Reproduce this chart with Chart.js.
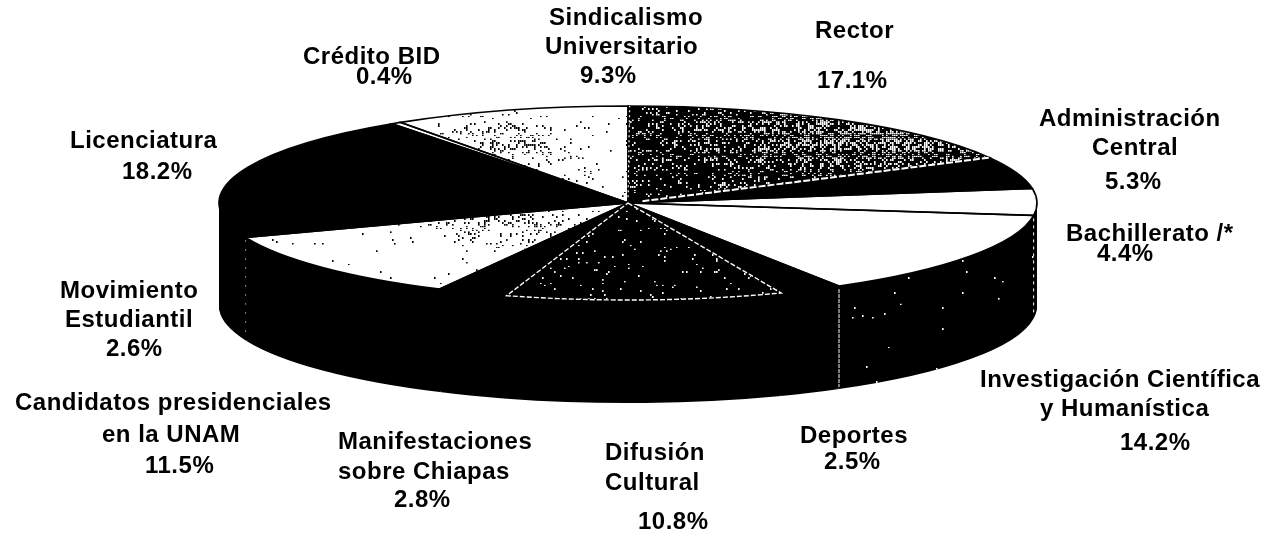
<!DOCTYPE html>
<html>
<head>
<meta charset="utf-8">
<title>Pie</title>
<script src="https://cdn.jsdelivr.net/npm/chart.js@4"></script>
<style>
  html, body { margin: 0; padding: 0; background: #fff; }
  canvas { display: block; }
</style>
</head>
<body>
<canvas id="pie" width="1270" height="535"></canvas>
<script>
const categories = [
  ['Rector'],
  ['Administración', 'Central'],
  ['Bachillerato /*'],
  ['Investigación Científica', 'y Humanística'],
  ['Deportes'],
  ['Difusión', 'Cultural'],
  ['Manifestaciones', 'sobre Chiapas'],
  ['Candidatos presidenciales', 'en la UNAM'],
  ['Movimiento', 'Estudiantil'],
  ['Licenciatura'],
  ['Crédito BID'],
  ['Sindicalismo', 'Universitario']
];
const values = [17.1, 5.3, 4.4, 14.2, 2.5, 10.8, 2.8, 11.5, 2.6, 18.2, 0.4, 9.3];

// left edge and middle height of every text line, last one is the percentage
const labelSpots = [
  [[815, 31], [817, 81]],
  [[1039, 119], [1092, 148], [1105, 182]],
  [[1066, 234], [1097, 254]],
  [[980, 380], [1040, 409], [1120, 443]],
  [[800, 436], [824, 462]],
  [[605, 453], [605, 483], [638, 522]],
  [[338, 442], [338, 472], [394, 500]],
  [[15, 403], [102, 435], [145, 466]],
  [[60, 291], [65, 320], [106, 349]],
  [[70, 141], [122, 172]],
  [[303, 57], [356, 77]],
  [[549, 18], [545, 47], [580, 76]]
];

const rx = 409, ry = 97, depth = 103;
const cx = 628, cy = 203;
const squash = ry / rx;

// slice textures, drawn in the unsquashed space of the pie
function speckle(base, dot, density) {
  const tile = document.createElement('canvas');
  tile.width = 1270;
  tile.height = 816;
  const t = tile.getContext('2d');
  t.fillStyle = base;
  t.fillRect(0, 0, 1270, 816);
  t.fillStyle = dot;
  for (let y = cy - 408; y < cy + 408; y += 8) {
    for (let x = 200; x < 1050; x += 2) {
      const h = Math.abs(Math.sin(x * 12.9898 + y * 78.233) * 43758.5453) % 1;
      if (h < density(x, cy + (y - cy) * squash)) {
        t.fillRect(x, ((y % 816) + 816) % 816, 1.6, 7);
      }
    }
  }
  return t.createPattern(tile, 'repeat');
}
const blob = (x, y, mx, my, sx, sy, a) =>
  a * Math.exp(-((x - mx) ** 2) / (2 * sx * sx) - ((y - my) ** 2) / (2 * sy * sy));

const rectorFill = speckle('#000', '#fff', (x, y) => 0.1 + blob(x, y, 880, 135, 130, 24, 0.42));
const difusionFill = speckle('#000', '#fff', () => 0.03);
const sindicalFill = speckle('#fff', '#000', (x, y) =>
  0.01 + blob(x, y, 510, 140, 40, 13, 0.26) + blob(x, y, 590, 165, 16, 8, 0.08));
const candidatosFill = speckle('#fff', '#000', (x, y) =>
  0.006 + blob(x, y, 510, 225, 50, 13, 0.26));
const wallFill = speckle('rgba(0,0,0,0)', '#fff', () => 0.003);

const sliceFills = [rectorFill, '#000', '#fff', '#fff', '#000', difusionFill,
  '#000', candidatosFill, '#000', '#000', '#fff', sindicalFill];

const pie3d = {
  id: 'pie3d',
  beforeDatasetsDraw(chart) {
    const ctx = chart.ctx;
    const arcs = chart.getDatasetMeta(0).data;
    // side wall: the same arcs again, stacked downward in black
    for (let d = depth; d > 0; d--) {
      ctx.save();
      ctx.translate(cx, cy + d);
      ctx.scale(1, squash);
      ctx.translate(-cx, -cy);
      arcs.forEach(arc => {
        const o = arc.options;
        arc.options = Object.assign({}, o, { backgroundColor: '#000', borderWidth: 0 });
        arc.draw(ctx);
        arc.options = o;
      });
      ctx.restore();
    }
    // a few light specks on the wall under Investigación
    const inv = arcs[3];
    ctx.save();
    ctx.beginPath();
    ctx.ellipse(cx, cy, rx, ry, 0, inv.startAngle, inv.endAngle);
    ctx.ellipse(cx, cy + depth, rx, ry, 0, inv.endAngle, inv.startAngle, true);
    ctx.closePath();
    ctx.translate(cx, cy);
    ctx.scale(1, squash);
    ctx.translate(-cx, -cy);
    ctx.fillStyle = wallFill;
    ctx.fill();
    ctx.restore();

    ctx.save();
    ctx.translate(cx, cy);
    ctx.scale(1, squash);
    ctx.translate(-cx, -cy);
  },
  afterDatasetsDraw(chart) {
    const ctx = chart.ctx;
    ctx.restore();
    const arcs = chart.getDatasetMeta(0).data;
    const wedge = arc => {
      ctx.beginPath();
      ctx.moveTo(cx, cy);
      ctx.ellipse(cx, cy, rx, ry, 0, arc.startAngle, arc.endAngle);
      ctx.closePath();
    };
    const spoke = (a, r0) => {
      ctx.beginPath();
      ctx.moveTo(cx + rx * r0 * Math.cos(a), cy + ry * r0 * Math.sin(a));
      ctx.lineTo(cx + rx * Math.cos(a), cy + ry * Math.sin(a));
      ctx.stroke();
    };
    ctx.save();
    ctx.strokeStyle = '#000';
    ctx.lineWidth = 1.6;
    arcs.forEach(arc => { wedge(arc); ctx.stroke(); });
    // worn light edges of the two dark textured slices
    ctx.strokeStyle = '#fff';
    ctx.lineWidth = 1.4;
    ctx.setLineDash([5, 2]);
    wedge(arcs[5]);
    ctx.stroke();
    ctx.lineWidth = 2;
    ctx.setLineDash([7, 2]);
    spoke(arcs[0].endAngle, 0.04);
    ctx.lineWidth = 1.2;
    ctx.setLineDash([2, 3]);
    spoke(arcs[0].startAngle + 0.004, 0.06);
    // seams on the wall
    ctx.lineWidth = 1;
    [[2, [3, 4]], [3, [4, 1]], [7, [1, 8]]].forEach(([i, dash]) => {
      const a = arcs[i].endAngle;
      const x = cx + rx * Math.cos(a), y = cy + ry * Math.sin(a);
      ctx.setLineDash(dash);
      ctx.beginPath();
      ctx.moveTo(x, y + 3);
      ctx.lineTo(x, y + depth - 2);
      ctx.stroke();
    });
    ctx.restore();
  },
  afterDraw(chart) {
    const ctx = chart.ctx;
    ctx.save();
    ctx.fillStyle = '#000';
    ctx.font = 'bold 24px "Liberation Sans", Arial, sans-serif';
    ctx.letterSpacing = '0.5px';
    ctx.textAlign = 'left';
    ctx.textBaseline = 'middle';
    categories.forEach((lines, i) => {
      const texts = lines.concat(values[i].toFixed(1) + '%');
      texts.forEach((text, j) => {
        const [x, y] = labelSpots[i][j];
        ctx.fillText(text, x, y);
      });
    });
    ctx.restore();
  }
};

new Chart(document.getElementById('pie'), {
  type: 'pie',
  data: {
    labels: categories,
    datasets: [{
      data: values,
      backgroundColor: sliceFills,
      borderWidth: 0,
      clip: false
    }]
  },
  options: {
    responsive: false,
    animation: false,
    radius: rx,
    layout: { padding: { left: 0, right: 14, top: 0, bottom: 129 } },
    plugins: { legend: { display: false }, tooltip: { enabled: false } }
  },
  plugins: [pie3d]
});
</script>
</body>
</html>
